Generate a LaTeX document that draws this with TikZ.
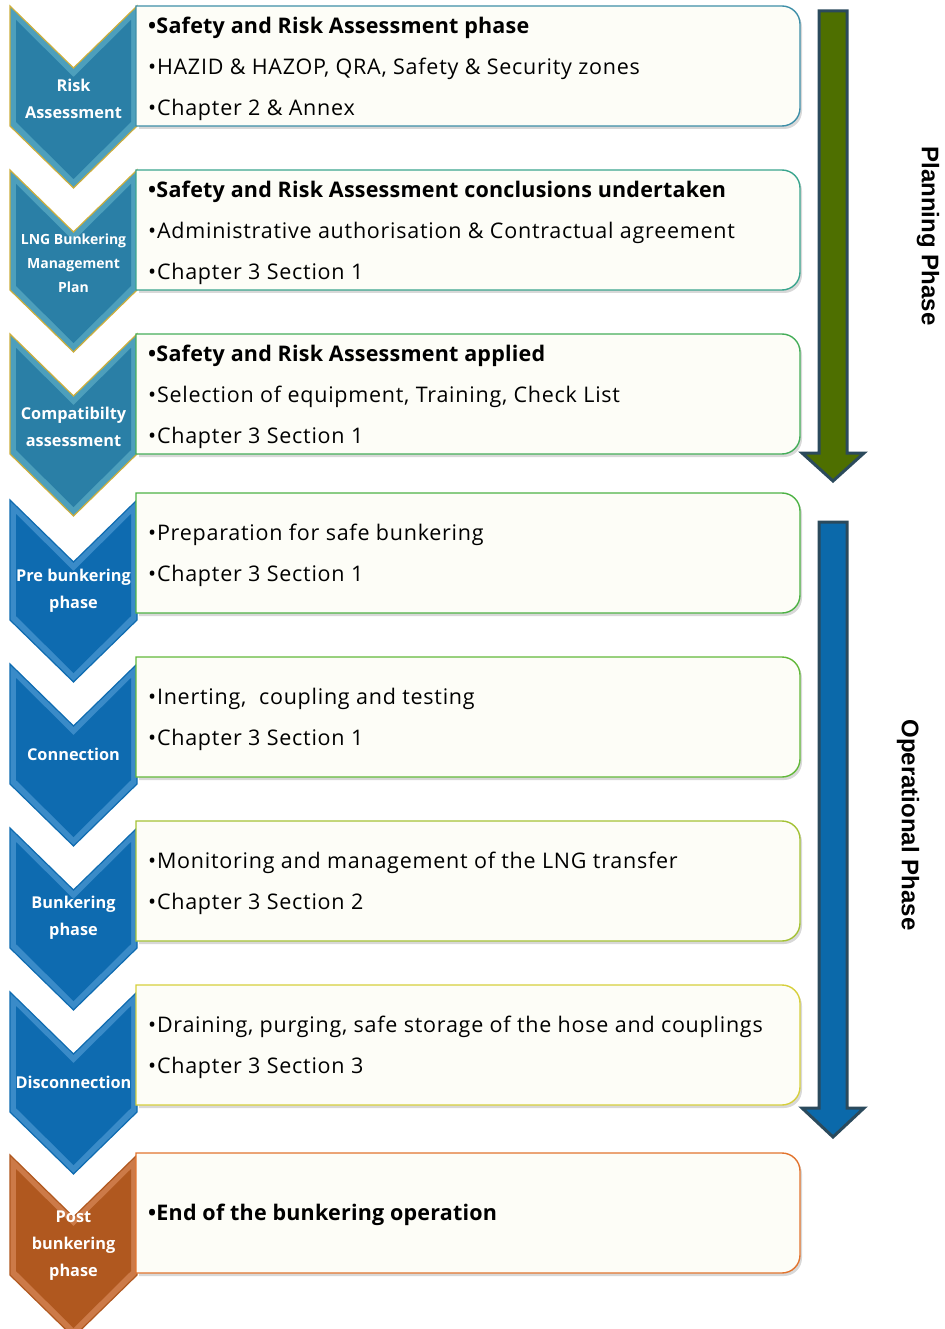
\documentclass[tikz,border=0pt]{standalone}
\usepackage{fontspec}
\setmainfont{Open Sans}[LetterSpace=3.5, BoldFeatures={LetterSpace=1}]
\newfontfamily\sidefont{Liberation Sans}
\newfontfamily\chevfont{Open Sans}
\definecolor{tealC}{HTML}{2A7FA6}
\definecolor{tealL}{HTML}{4D9FBC}
\definecolor{blueC}{HTML}{0E6BB0}
\definecolor{blueL}{HTML}{3A8BC8}
\definecolor{brownC}{HTML}{B0581F}
\definecolor{brownL}{HTML}{CC7A48}
\definecolor{goldE}{HTML}{CDAE3C}
\definecolor{arrowEdge}{HTML}{2B4A5C}
\definecolor{greenF}{HTML}{4E6F00}
\definecolor{blueF}{HTML}{0B69AA}
\definecolor{bA}{HTML}{3E8FA8}
\definecolor{bB}{HTML}{3AA58E}
\definecolor{bC}{HTML}{45AE5A}
\definecolor{bD}{HTML}{4DB245}
\definecolor{bE}{HTML}{62B83A}
\definecolor{bF}{HTML}{A4C235}
\definecolor{bG}{HTML}{D6CF3C}
\definecolor{bH}{HTML}{E2742E}
\definecolor{cream}{HTML}{FDFDF7}
\tikzset{
  boxtext/.style={anchor=west, align=left, inner sep=0pt, font=\fontsize{21.5}{41}\selectfont},
  chevtext/.style={text=white, align=center, inner sep=0pt, font=\chevfont\bfseries\fontsize{16.3}{27}\selectfont},
  sidetext/.style={rotate=-90, inner sep=0pt, font=\sidefont\bfseries\fontsize{24}{28}\selectfont},
}
\newcommand\phasebox[3]{% top, border colour, name
  \fill[black!30,opacity=.5] (139,#1+3) -- (784,#1+3) arc[start angle=90,end angle=0,radius=18pt]
     -- (802,#1+105) arc[start angle=0,end angle=-90,radius=18pt] -- (139,#1+123) -- cycle;
  \draw[#2, line width=1.4pt, fill=cream] (136,#1) -- (782,#1) arc[start angle=90,end angle=0,radius=18pt]
     -- (800,#1+102) arc[start angle=0,end angle=-90,radius=18pt] -- (136,#1+120) -- cycle;
  \coordinate (#3) at (468,#1+60);
}
\newcommand\chev[4]{% top, light colour, main colour, edge
  \fill[#2] (10,#1) -- (73.5,#1+62) -- (137,#1) -- (137,#1+120) -- (73.5,#1+182) -- (10,#1+120) -- cycle;
  \fill[#3] (16,#1+14) -- (73.5,#1+71) -- (131,#1+14) -- (131,#1+116) -- (73.5,#1+173) -- (16,#1+116) -- cycle;
  \draw[#4, line width=1.2pt] (10,#1) -- (73.5,#1+62) -- (137,#1) -- (137,#1+120) -- (73.5,#1+182) -- (10,#1+120) -- cycle;
}
\begin{document}
\begin{tikzpicture}[x=1pt,y=-1pt]
\useasboundingbox (0,0) rectangle (944,1329);
\begin{scope}
\clip (0,0) rectangle (944,1329);
% chevrons
\chev{6}{tealL}{tealC}{goldE}
\chev{170}{tealL}{tealC}{goldE}
\chev{334}{tealL}{tealC}{goldE}
\chev{500}{blueL}{blueC}{blueC}
\chev{664}{blueL}{blueC}{blueC}
\chev{828}{blueL}{blueC}{blueC}
\chev{992}{blueL}{blueC}{blueC}
\chev{1155}{brownL}{brownC}{brownC}
\end{scope}
% boxes
\phasebox{6}{bA}{box1}
\phasebox{170}{bB}{box2}
\phasebox{334}{bC}{box3}
\phasebox{493}{bD}{box4}
\phasebox{657}{bE}{box5}
\phasebox{821}{bF}{box6}
\phasebox{985}{bG}{box7}
\phasebox{1153}{bH}{box8}
% chevron labels
\node[chevtext] (c1) at (73.5,99) {Risk\\Assessment};
\node[chevtext, font=\chevfont\bfseries\fontsize{14}{24}\selectfont] (c2) at (73.5,263) {LNG Bunkering\\Management\\Plan};
\node[chevtext] (c3) at (73.5,427) {Compatibilty\\assessment};
\node[chevtext] (c4) at (73.5,591) {Pre bunkering\\phase};
\node[chevtext] (c5) at (73.5,754) {Connection};
\node[chevtext] (c6) at (73.5,918) {Bunkering\\phase};
\node[chevtext] (c7) at (73.5,1082) {Disconnection};
\node[chevtext] (c8) at (73.5,1246) {Post\\bunkering\\phase};
% box texts
\node[boxtext] (t1) at (148,69) {\textbf{•Safety and Risk Assessment phase}\\•HAZID \& HAZOP, QRA, Safety \& Security zones\\•Chapter 2 \& Annex};
\node[boxtext] (t2) at (148,233) {\textbf{•Safety and Risk Assessment conclusions undertaken}\\•Administrative authorisation \& Contractual agreement\\•Chapter 3 Section 1};
\node[boxtext] (t3) at (148,397) {\textbf{•Safety and Risk Assessment applied}\\•Selection of equipment, Training, Check List\\•Chapter 3 Section 1};
\node[boxtext] (t4) at (148,555) {•Preparation for safe bunkering\\•Chapter 3 Section 1};
\node[boxtext] (t5) at (148,719) {•Inerting,\ \ coupling and testing\\•Chapter 3 Section 1};
\node[boxtext] (t6) at (148,883) {•Monitoring and management of the LNG transfer\\•Chapter 3 Section 2};
\node[boxtext] (t7) at (148,1047) {•Draining, purging, safe storage of the hose and couplings\\•Chapter 3 Section 3};
\node[boxtext] (t8) at (148,1215) {\textbf{•End of the bunkering operation}};
% phase arrows
\draw[arrowEdge, line width=3pt, fill=greenF, line join=miter]
  (819,11) -- (847,11) -- (847,453) -- (864,453) -- (833,481) -- (802,453) -- (819,453) -- cycle;
\draw[arrowEdge, line width=3pt, fill=blueF, line join=miter]
  (819,522) -- (847,522) -- (847,1108) -- (864,1108) -- (833,1137) -- (802,1108) -- (819,1108) -- cycle;
\node[sidetext] (p1) at (928,236) {Planning Phase};
\node[sidetext] (p2) at (908,825) {Operational Phase};
\end{tikzpicture}
\end{document}
